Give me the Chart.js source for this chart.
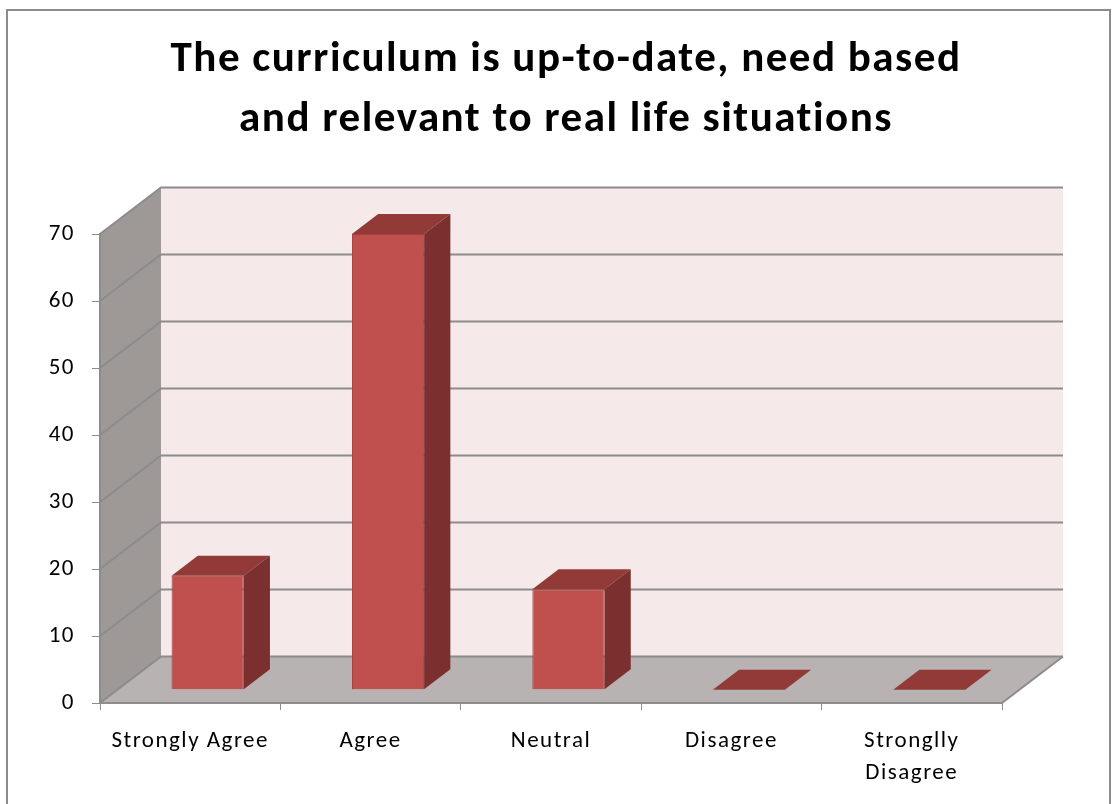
<!DOCTYPE html>
<html><head><meta charset="utf-8">
<script src="https://cdn.jsdelivr.net/npm/chart.js@4.4.1/dist/chart.umd.min.js"></script>
<style>html,body{margin:0;padding:0;background:#fff;}#wrap{width:1112px;height:804px;}</style>
</head><body><div id="wrap"><canvas id="c" width="1112" height="804"></canvas></div>
<script>
const categories = ['Strongly Agree', 'Agree', 'Neutral', 'Disagree', ['Stronglly', 'Disagree']];
const values = [17, 68, 15, 0, 0];
const yTicks = [0, 10, 20, 30, 40, 50, 60, 70];
const titleLines = ['The curriculum is up-to-date, need based', 'and relevant to real life situations'];

const FONT = 'Carlito, Lato, "Open Sans", sans-serif';
const DX = 61, DY = 46.5;          // full depth of the 3D box
const BAR_FRONT = 0.286, BAR_DEPTH = 0.43;

function poly(ctx, pts, fill) {
  ctx.beginPath();
  ctx.moveTo(pts[0][0], pts[0][1]);
  for (let i = 1; i < pts.length; i++) ctx.lineTo(pts[i][0], pts[i][1]);
  ctx.closePath();
  ctx.fillStyle = fill;
  ctx.fill();
}

function spacing(chart) {
  try { chart.ctx.letterSpacing = '1.5px'; } catch (e) {}
}

const threeD = {
  id: 'threeD',
  beforeUpdate(chart) { spacing(chart); },
  beforeLayout(chart) { spacing(chart); },
  beforeDraw(chart) {
    spacing(chart);
    const ctx = chart.ctx, a = chart.chartArea, y = chart.scales.y;
    const y0 = y.getPixelForValue(0), yT = y.getPixelForValue(yTicks[yTicks.length - 1]);
    ctx.save();
    poly(ctx, [[a.left, y0], [a.left + DX, y0 - DY], [a.left + DX, yT - DY], [a.left, yT]], '#9e9897');
    poly(ctx, [[a.left + DX, yT - DY], [a.right + DX, yT - DY], [a.right + DX, y0 - DY], [a.left + DX, y0 - DY]], '#f5e9e9');
    poly(ctx, [[a.left, y0], [a.right, y0], [a.right + DX, y0 - DY], [a.left + DX, y0 - DY]], '#b9b2b2');
    ctx.strokeStyle = '#8c8c8c';
    ctx.lineWidth = 2;
    yTicks.forEach(v => {
      const p = y.getPixelForValue(v);
      ctx.beginPath();
      ctx.moveTo(a.left, p);
      ctx.lineTo(a.left + DX, p - DY);
      ctx.lineTo(a.right + DX, p - DY);
      ctx.stroke();
    });
    ctx.beginPath();
    ctx.moveTo(a.right, y0);
    ctx.lineTo(a.right + DX, y0 - DY);
    ctx.stroke();
    ctx.restore();
  },
  beforeDatasetsDraw(chart) {
    chart.ctx.save();
    chart.ctx.translate(BAR_FRONT * DX, -BAR_FRONT * DY);
  },
  afterDatasetsDraw(chart) {
    const ctx = chart.ctx;
    ctx.restore();
    ctx.save();
    ctx.translate(BAR_FRONT * DX, -BAR_FRONT * DY);
    const bx = BAR_DEPTH * DX, by = BAR_DEPTH * DY;
    chart.getDatasetMeta(0).data.forEach(bar => {
      const p = bar.getProps(['x', 'y', 'base', 'width'], true);
      const l = p.x - p.width / 2, r = p.x + p.width / 2;
      poly(ctx, [[l, p.y], [r, p.y], [r + bx, p.y - by], [l + bx, p.y - by]], '#913a37');
      if (p.base - p.y > 0.5) {
        poly(ctx, [[r, p.y], [r + bx, p.y - by], [r + bx, p.base - by], [r, p.base]], '#7b302f');
      }
    });
    ctx.restore();
  },
  afterDraw(chart) {
    const ctx = chart.ctx;
    ctx.save();
    ctx.strokeStyle = '#8c8c8c';
    ctx.lineWidth = 2;
    ctx.strokeRect(7, 10, 1103, 800);
    ctx.restore();
  }
};

new Chart(document.getElementById('c'), {
  type: 'bar',
  data: {
    labels: categories,
    datasets: [{
      data: values,
      backgroundColor: '#c0504d',
      borderColor: '#a3403d',
      borderWidth: 1,
      barPercentage: 0.4,
      categoryPercentage: 1,
      clip: false
    }]
  },
  options: {
    responsive: false,
    animation: false,
    devicePixelRatio: 1,
    layout: { padding: { left: 20, right: 0, top: 0, bottom: 0 } },
    plugins: {
      legend: { display: false },
      tooltip: { enabled: false },
      title: {
        display: true,
        text: titleLines,
        color: '#000',
        font: { family: FONT, size: 43, weight: 'bold', lineHeight: 60 / 43 },
        padding: { top: 30.5, bottom: 83.5 }
      }
    },
    scales: {
      x: {
        grid: { drawOnChartArea: false, tickLength: 7, color: '#8c8c8c', lineWidth: 1 },
        border: { color: '#8c8c8c', width: 2 },
        ticks: { color: '#000', font: { family: FONT, size: 23, lineHeight: 1.4 }, padding: 15, maxRotation: 0, autoSkip: false },
        afterFit(s) { s.height = 101; }
      },
      y: {
        min: 0, max: 70,
        afterBuildTicks(s) { s.ticks = yTicks.map(v => ({ value: v })); },
        grid: { drawOnChartArea: false, tickLength: 8, color: '#8c8c8c', lineWidth: 1 },
        border: { color: '#8c8c8c', width: 2 },
        ticks: { color: '#000', font: { family: FONT, size: 23 }, padding: 17 },
        afterFit(s) { s.width = 80; }
      },
      y2: {
        position: 'right',
        display: true,
        grid: { display: false },
        border: { display: false },
        ticks: { display: false },
        afterFit(s) { s.width = 110; }
      }
    }
  },
  plugins: [threeD]
});
</script></body></html>
